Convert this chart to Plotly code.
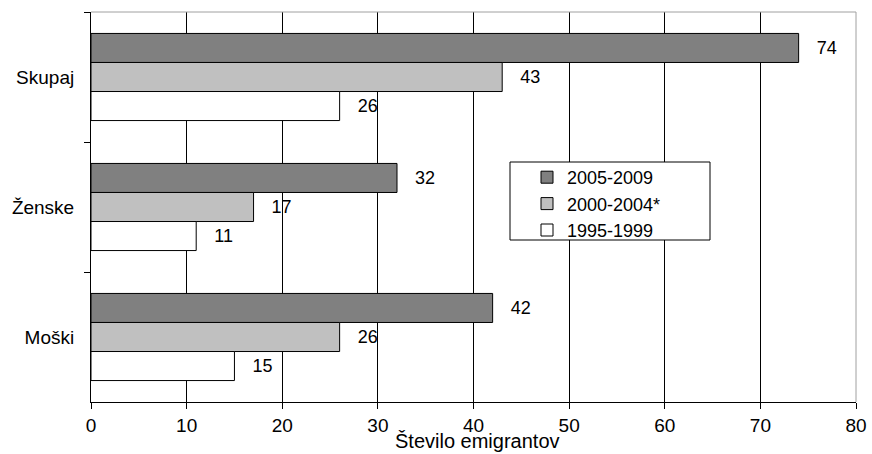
import plotly.graph_objects as go

categories = ["Skupaj", "Ženske", "Moški"]
series_names = ["2005-2009", "2000-2004*", "1995-1999"]
values_2005_2009 = [74, 32, 42]
values_2000_2004 = [43, 17, 26]
values_1995_1999 = [26, 11, 15]
x_ticks = [0, 10, 20, 30, 40, 50, 60, 70, 80]

series_values = [values_2005_2009, values_2000_2004, values_1995_1999]
colors = ["#808080", "#c0c0c0", "#ffffff"]

FONT = "Arial, Liberation Sans, sans-serif"
pad = "\u00a0\u00a0\u00a0"

W, H = 872, 454
PL, PR, PT, PB = 91, 856, 12, 402  # plot area in page pixels

fig = go.Figure()
for name, vals, col in zip(series_names, series_values, colors):
    fig.add_trace(go.Bar(
        y=categories, x=vals, name=name, orientation="h",
        marker=dict(color=col, line=dict(color="#000000", width=1)),
        text=[pad + str(v) for v in vals], textposition="outside",
        textfont=dict(family=FONT, size=18, color="#000000"),
        cliponaxis=False,
    ))

pw, ph = PR - PL, PB - PT

def px(x):
    return (x - PL) / pw

def py(y):
    return 1 - (y - PT) / ph

fig.update_layout(
    width=W, height=H,
    margin=dict(l=PL, r=W - PR, t=PT, b=H - PB),
    paper_bgcolor="white", plot_bgcolor="white",
    barmode="group", bargap=0.33, bargroupgap=0,
    font=dict(family=FONT, size=19, color="#000000"),
    showlegend=True,
    legend=dict(
        x=px(527), y=py(159), xanchor="left", yanchor="top",
        bgcolor="rgba(0,0,0,0)", borderwidth=0,
        font=dict(family=FONT, size=18, color="#000000"),
        tracegroupgap=0,
    ),
    xaxis=dict(
        range=[0, 80], tickvals=x_ticks, ticktext=[str(t) for t in x_ticks],
        showgrid=True, gridcolor="#000000", gridwidth=1,
        zeroline=False, showline=True, linecolor="#000000", linewidth=1,
        ticks="outside", ticklen=6, tickcolor="#000000",
        tickfont=dict(family=FONT, size=19, color="#000000"),
        automargin=False,
    ),
    yaxis=dict(
        autorange="reversed", showgrid=False, zeroline=False,
        showline=True, linecolor="#000000", linewidth=1,
        ticks="outside", ticklen=6, tickcolor="#000000", tickson="boundaries",
        tickfont=dict(family=FONT, size=19, color="#000000"),
        ticklabelstandoff=12, automargin=False,
    ),
    shapes=[
        dict(type="line", xref="paper", yref="paper", x0=0, x1=1, y0=1, y1=1,
             line=dict(color="#a0a0a0", width=1), layer="above"),
        dict(type="line", xref="paper", yref="paper", x0=1, x1=1, y0=0, y1=1,
             line=dict(color="#a0a0a0", width=1), layer="above"),
        dict(type="rect", xref="paper", yref="paper",
             x0=px(510), x1=px(710), y0=py(240), y1=py(162),
             line=dict(color="#000000", width=1), fillcolor="white", layer="above"),
    ],
    annotations=[
        dict(text="Število emigrantov", xref="paper", yref="paper",
             x=px(477), y=py(441), xanchor="center", yanchor="middle",
             showarrow=False, font=dict(family=FONT, size=20, color="#000000")),
    ],
)

fig.write_html(
    "out.html",
    config={"displayModeBar": False},
    post_script="document.body.style.margin='0';document.body.style.overflow='hidden';",
)
